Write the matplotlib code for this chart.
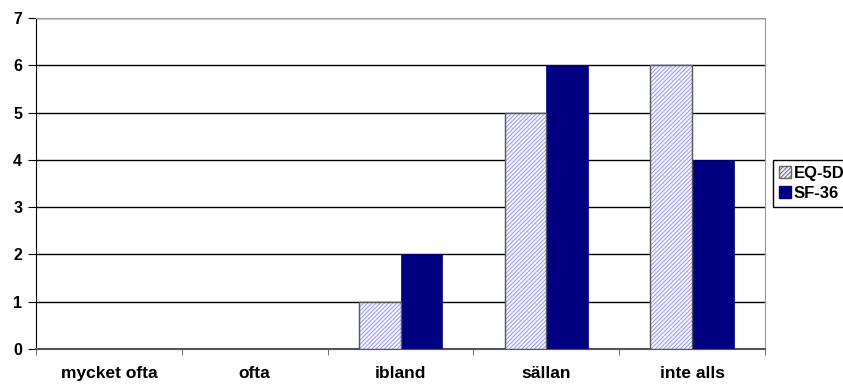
import matplotlib.pyplot as plt
import numpy as np
from matplotlib.patches import Patch

plt.rcParams['font.family'] = ['Liberation Sans', 'DejaVu Sans']
plt.rcParams['hatch.linewidth'] = 0.7

categories = ['mycket ofta', 'ofta', 'ibland', 'sällan', 'inte alls']
eq5d = [0, 0, 1, 5, 6]
sf36 = [0, 0, 2, 6, 4]

fig = plt.figure(figsize=(8.43, 3.89), dpi=100)
ax = fig.add_axes([36 / 843, 1 - 349 / 389, (765 - 36) / 843, (349 - 18) / 389])

x = np.arange(len(categories))
w = 1 / 3.5

# hatched EQ-5D bars: hatch first, then gray outline on top
ax.bar(x - w / 2, eq5d, w, color='#f4f4ff', edgecolor='#9a9af5', hatch='////////',
       linewidth=0, zorder=3)
ax.bar(x - w / 2, eq5d, w, fill=False, edgecolor='#555555', linewidth=1, zorder=4)
ax.bar(x + w / 2, sf36, w, color='#000080', edgecolor='#000080', linewidth=0.5, zorder=3)

# legend proxies
handles = [Patch(facecolor='#f4f4ff', edgecolor='#666666', hatch='////////', label='EQ-5D'),
           Patch(facecolor='#000080', edgecolor='#000080', label='SF-36')]
fig.legend(handles=handles, loc='upper left', bbox_to_anchor=(773 / 843, 1 - 160 / 389),
           frameon=True, fancybox=False, edgecolor='black', framealpha=1,
           prop={'weight': 'bold', 'size': 12}, handlelength=0.7, handleheight=0.7,
           handletextpad=0.2, borderpad=0.35, labelspacing=0.3, borderaxespad=0)

ax.set_xlim(-0.5, len(categories) - 0.5)
ax.set_ylim(0, 7)
ax.set_yticks(range(8))
ax.set_xticks(x)
ax.set_xticklabels(categories, fontweight='bold', fontsize=12.5)
ax.set_xticks(np.arange(len(categories) + 1) - 0.5, minor=True)
ax.tick_params(axis='x', which='major', length=0, pad=12)
ax.tick_params(axis='x', which='minor', length=4, color='#555555')
ax.tick_params(axis='y', length=6, labelsize=11.5, pad=4)
for lbl in ax.get_yticklabels():
    lbl.set_fontweight('bold')

ax.yaxis.grid(True, color='black', linewidth=1)
ax.set_axisbelow(True)
ax.spines['top'].set_color('#999999')
ax.spines['right'].set_color('#999999')
ax.spines['left'].set_color('black')
ax.spines['bottom'].set_color('#555555')
ax.spines['bottom'].set_linewidth(1.5)

plt.savefig('out.png', dpi=100)
